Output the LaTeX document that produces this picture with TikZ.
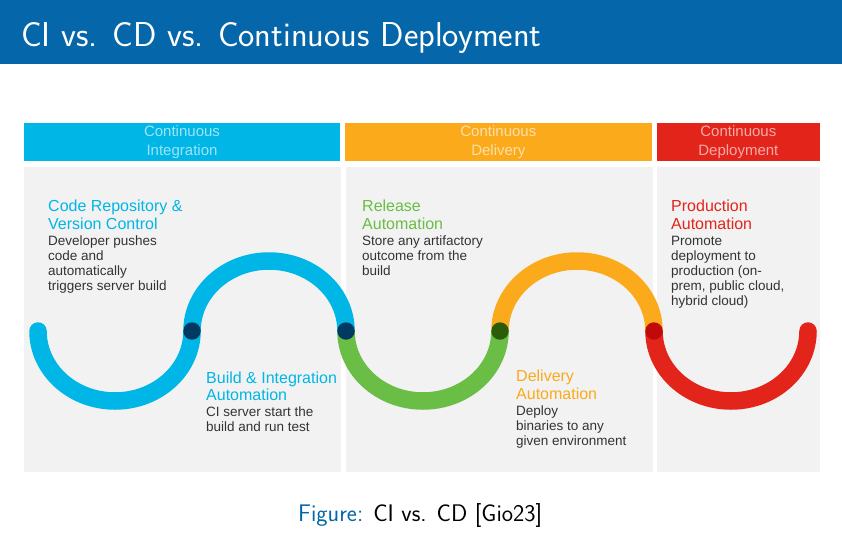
\documentclass[tikz,border=0pt]{standalone}
\usepackage{fontspec}
\newfontfamily\cisco{Liberation Sans}
\definecolor{barblue}{HTML}{0566A9}
\definecolor{ciblue}{HTML}{00B6E6}
\definecolor{cdorange}{HTML}{FBAA1C}
\definecolor{cdred}{HTML}{E3241B}
\definecolor{cdgreen}{HTML}{6ABD45}
\definecolor{panelgray}{HTML}{F2F2F2}
\definecolor{bodygray}{HTML}{333333}
\definecolor{dotblue}{HTML}{003A63}
\definecolor{dotgreen}{HTML}{2B5C0A}
\definecolor{dotred}{HTML}{C00A0A}
\begin{document}
\begin{tikzpicture}[x=1pt,y=-1pt,
  hdr/.style={inner sep=0, minimum height=37.4pt, align=center, text=white, text opacity=0.62,
    font=\cisco\fontsize{15}{19}\selectfont},
  panel/.style={fill=panelgray},
  % multi-line nodes are placed by the baseline of their last line
  stagetitle/.style={anchor=base west, inner sep=0, align=left, font=\cisco\fontsize{16}{17.5}\selectfont},
  stagebody/.style={anchor=base west, inner sep=0, align=left, text=bodygray, font=\cisco\fontsize{13.5}{15}\selectfont},
  wave/.style={line width=17.5pt},
  joint/.style={circle, inner sep=0, minimum size=17.4pt}]
\useasboundingbox (0,0) rectangle (842,535);
\fill[white] (0,0) rectangle (842,535);

% title bar
\fill[barblue] (0,0) rectangle (842,63.5);
\node[anchor=base west, inner sep=0, text=white, font=\sffamily\fontsize{34.5}{40}\selectfont] (title) at (21,47) {CI vs. CD vs. Continuous Deployment};

% phase headers
\node[hdr, fill=ciblue, minimum width=316pt] (hci) at (182,142) {Continuous\\Integration};
\node[hdr, fill=cdorange, minimum width=306.7pt] (hcd) at (498.35,142) {Continuous\\Delivery};
\node[hdr, fill=cdred, minimum width=163.3pt] (hdep) at (738.35,142) {Continuous\\Deployment};

% phase panels
\fill[panel] (24,166.7) rectangle (341,471.7);
\fill[panel] (345.5,166.7) rectangle (653,471.7);
\fill[panel] (657,166.7) rectangle (820,471.7);

% wave end points and joints
\coordinate (e0) at (38,331);
\coordinate (e5) at (808,331);
\node[joint] (p1) at (192,331) {};
\node[joint] (p2) at (346,331) {};
\node[joint] (p3) at (500,331) {};
\node[joint] (p4) at (654,331) {};

% wave segments
\draw[wave, ciblue, line cap=round] (e0) arc[start angle=180, end angle=360, x radius=77pt, y radius=70pt]
  arc[start angle=180, end angle=0, x radius=77pt, y radius=70pt];
\draw[wave, cdred, line cap=round] (p4.center) arc[start angle=180, end angle=360, x radius=77pt, y radius=70pt];
\draw[wave, cdgreen] (p2.center) arc[start angle=180, end angle=360, x radius=77pt, y radius=70pt];
\draw[wave, cdorange] (p3.center) arc[start angle=180, end angle=0, x radius=77pt, y radius=70pt];

% joint dots on top
\fill[dotblue] (p1) circle[radius=8.7pt];
\fill[dotblue] (p2) circle[radius=8.7pt];
\fill[dotgreen] (p3) circle[radius=8.7pt];
\fill[dotred] (p4) circle[radius=8.7pt];

% stage descriptions
\node[stagetitle, text=ciblue] (s1t) at (48,229.2) {Code Repository \&\\Version Control};
\node[stagebody] (s1b) at (48,290) {Developer pushes\\code and\\automatically\\triggers server build};

\node[stagetitle, text=ciblue] (s2t) at (206,400.8) {Build \& Integration\\Automation};
\node[stagebody] (s2b) at (206,431.7) {CI server start the\\build and run test};

\node[stagetitle, text=cdgreen] (s3t) at (362,229.2) {Release\\Automation};
\node[stagebody] (s3b) at (362,275) {Store any artifactory\\outcome from the\\build};

\node[stagetitle, text=cdorange] (s4t) at (516,399.2) {Delivery\\Automation};
\node[stagebody] (s4b) at (516,445) {Deploy\\binaries to any\\given environment};

\node[stagetitle, text=cdred] (s5t) at (671,229.2) {Production\\Automation};
\node[stagebody] (s5b) at (671,305) {Promote\\deployment to\\production (on-\\prem, public cloud,\\hybrid cloud)};

% caption
\node[anchor=base west, inner sep=0, font=\sffamily\fontsize{24}{28}\selectfont] (cap) at (298,521)
  {\textcolor{barblue}{Figure:} CI vs. CD [Gio23]};
\end{tikzpicture}
\end{document}
